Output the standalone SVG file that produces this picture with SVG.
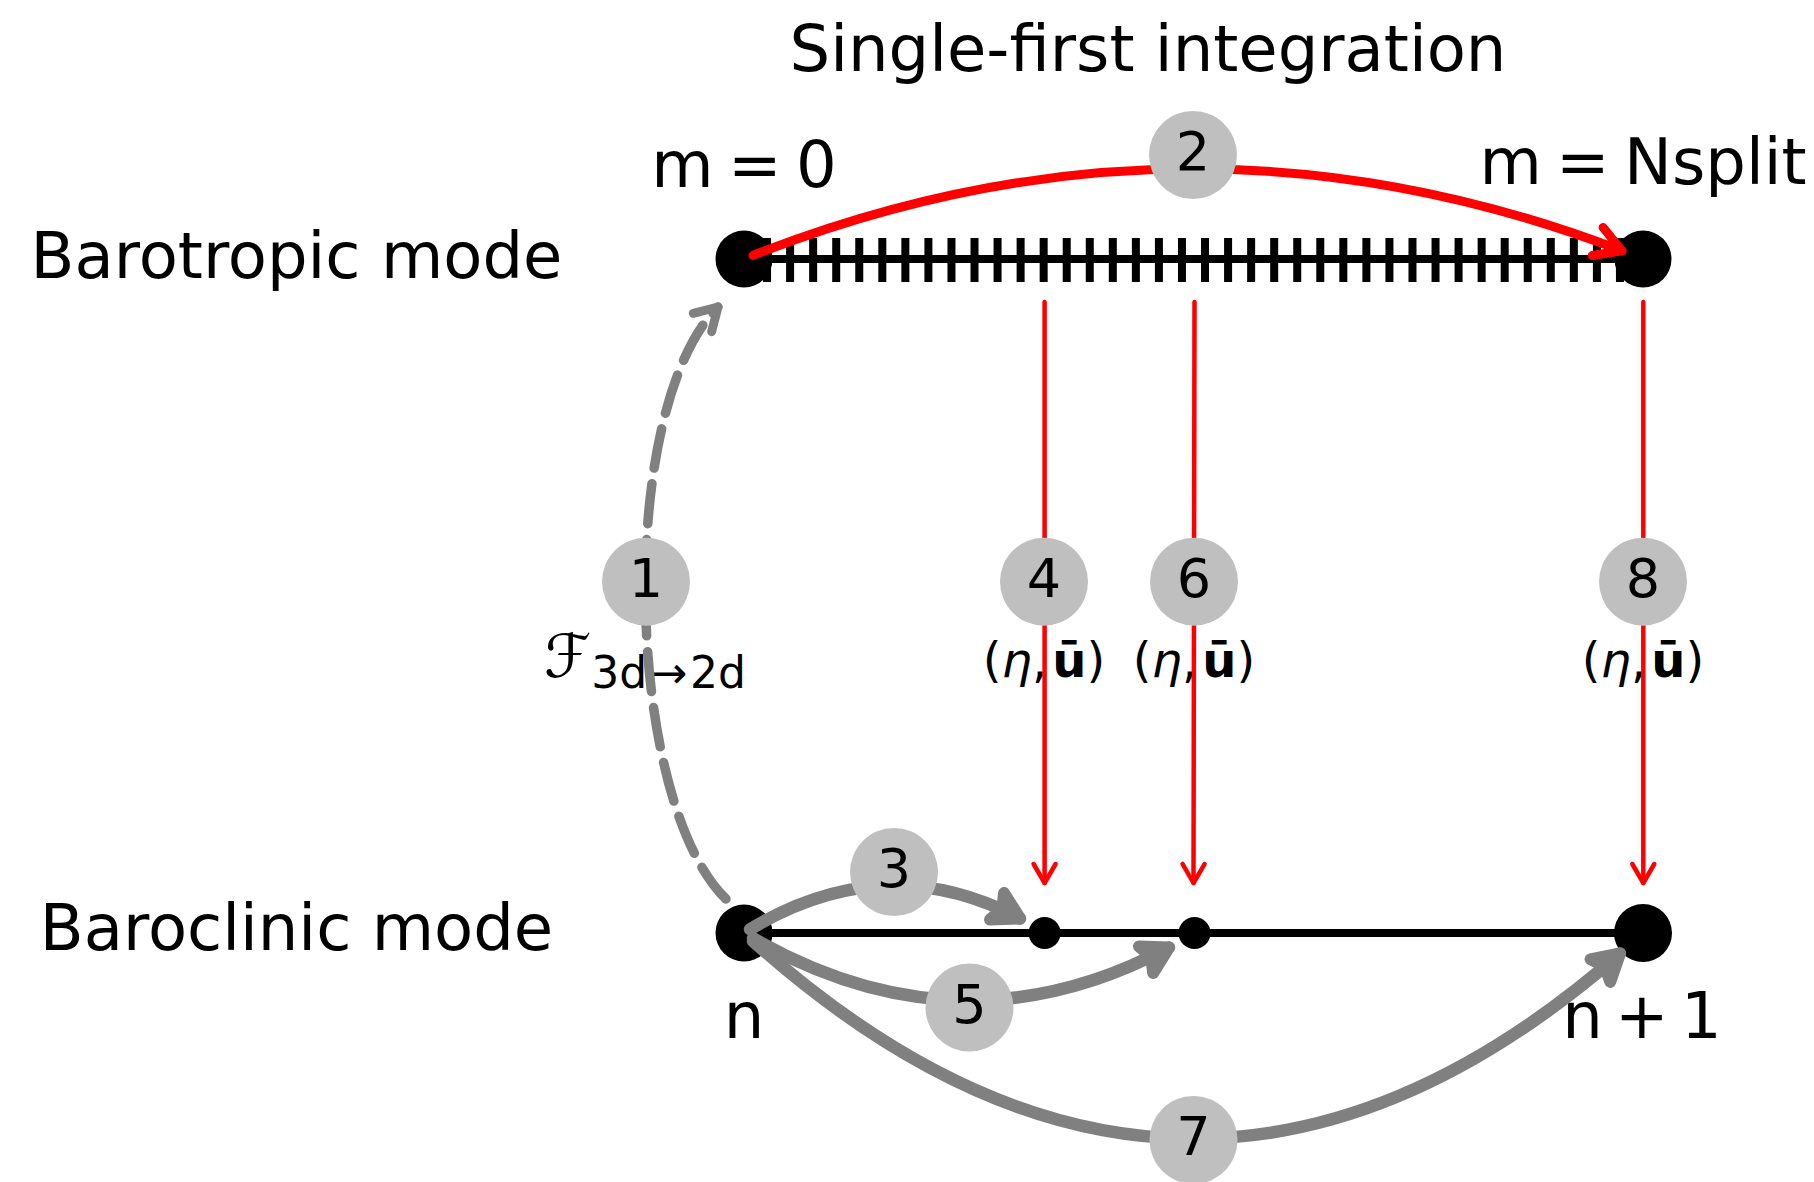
<svg xmlns="http://www.w3.org/2000/svg" width="1814" height="1182" viewBox="0 0 1814 1182">
<style>
text{font-family:"DejaVu Sans","Noto Sans",sans-serif;fill:#000}
.big{font-size:64px}
.num{font-size:54px;text-anchor:middle}
.lab{font-size:48px;text-anchor:middle}
.node{fill:#000}
.lbl{fill:#bfbfbf}
.red{fill:none;stroke:#ff0000;stroke-linecap:round;stroke-linejoin:round}
.gray{fill:none;stroke:#808080;stroke-linecap:round;stroke-linejoin:round}
.axis{fill:none;stroke:#000}
</style>
<defs>
<marker id="hRed" markerUnits="userSpaceOnUse" orient="auto" overflow="visible" markerWidth="1" markerHeight="1">
<path d="M -26 -15 L 0 0 L -26 15" fill="none" stroke="#ff0000" stroke-width="9" stroke-linejoin="round" stroke-linecap="round"/>
</marker>
<marker id="hRedThin" markerUnits="userSpaceOnUse" orient="auto" overflow="visible" markerWidth="1" markerHeight="1">
<path d="M -19 -11 L 0 0 L -19 11" fill="none" stroke="#ff0000" stroke-width="4.5" stroke-linejoin="round" stroke-linecap="round"/>
</marker>
<marker id="hGray" markerUnits="userSpaceOnUse" orient="auto" overflow="visible" markerWidth="1" markerHeight="1">
<path d="M -26 -15 L 0 0 L -26 15 L -20 0 Z" fill="#808080" stroke="#808080" stroke-width="12" stroke-linejoin="round" stroke-linecap="round"/>
</marker>
<marker id="hGrayDash" markerUnits="userSpaceOnUse" orient="auto" overflow="visible" markerWidth="1" markerHeight="1">
<path d="M -22 -13 L 0 0 L -22 13" fill="none" stroke="#808080" stroke-width="9" stroke-linejoin="round" stroke-linecap="round" stroke-dasharray="none"/>
</marker>
</defs>
<rect width="1814" height="1182" fill="#fff"/>

<text class="big" x="1148" y="71" text-anchor="middle">Single-first integration</text>
<text class="big" x="296.5" y="278" text-anchor="middle">Barotropic mode</text>
<text class="big" x="296.5" y="950" text-anchor="middle">Baroclinic mode</text>

<g id="timelines">
<path class="axis" stroke-width="8" d="M 744 259 H 1643 M 744 933 H 1643"/>
<path class="axis" stroke-width="8" d="M 767.05 238 V 282 M 790.10 238 V 282 M 813.15 238 V 282 M 836.21 238 V 282 M 859.26 238 V 282 M 882.31 238 V 282 M 905.36 238 V 282 M 928.41 238 V 282 M 951.46 238 V 282 M 974.51 238 V 282 M 997.56 238 V 282 M 1020.62 238 V 282 M 1043.67 238 V 282 M 1066.72 238 V 282 M 1089.77 238 V 282 M 1112.82 238 V 282 M 1135.87 238 V 282 M 1158.92 238 V 282 M 1181.97 238 V 282 M 1205.03 238 V 282 M 1228.08 238 V 282 M 1251.13 238 V 282 M 1274.18 238 V 282 M 1297.23 238 V 282 M 1320.28 238 V 282 M 1343.33 238 V 282 M 1366.38 238 V 282 M 1389.44 238 V 282 M 1412.49 238 V 282 M 1435.54 238 V 282 M 1458.59 238 V 282 M 1481.64 238 V 282 M 1504.69 238 V 282 M 1527.74 238 V 282 M 1550.79 238 V 282 M 1573.85 238 V 282 M 1596.90 238 V 282 M 1619.95 238 V 282"/>
</g>

<g id="node-m0">
<circle class="node" cx="744" cy="259" r="28.5"/>
<text class="big" x="744" y="187" text-anchor="middle" word-spacing="-6">m = 0</text>
</g>
<g id="node-mN">
<circle class="node" cx="1643" cy="259" r="28.5"/>
<text class="big" x="1643" y="184" text-anchor="middle" word-spacing="-6">m = Nsplit</text>
</g>
<g id="node-n">
<circle class="node" cx="744" cy="933" r="28.5"/>
<text class="big" x="744" y="1038" text-anchor="middle">n</text>
</g>
<g id="node-s4">
<circle class="node" cx="1044.6" cy="933" r="16"/>
</g>
<g id="node-s6">
<circle class="node" cx="1194.5" cy="933" r="16"/>
</g>
<g id="node-n1">
<circle class="node" cx="1643" cy="933" r="29"/>
<text class="big" x="1642" y="1038" text-anchor="middle" word-spacing="-8">n + 1</text>
</g>

<g id="edge-labels-text">
<text class="lab" x="645" y="677"><tspan font-size="60">ℱ</tspan><tspan font-size="44" dy="11">3d</tspan><tspan font-size="44" dx="3">→</tspan><tspan font-size="44" dx="3">2d</tspan></text>
<text class="lab" x="1044" y="677">(<tspan font-style="italic">η</tspan>,<tspan dx="5" font-weight="bold">ū</tspan>)</text>
<text class="lab" x="1194" y="677">(<tspan font-style="italic">η</tspan>,<tspan dx="5" font-weight="bold">ū</tspan>)</text>
<text class="lab" x="1643" y="677">(<tspan font-style="italic">η</tspan>,<tspan dx="5" font-weight="bold">ū</tspan>)</text>
</g>

<g id="connectors">
<path id="e1" class="gray" stroke-width="9.5" stroke-dasharray="40 16" d="M 726 899 C 625 800 615 410 718 307" marker-end="url(#hGrayDash)"/>
<path id="e2" class="red" stroke-width="9" d="M 753 255.4 Q 1188.4 84.6 1622 250.8" marker-end="url(#hRed)"/>
<path id="e3" class="gray" stroke-width="12.5" d="M 750 929.3 Q 886.1 847.6 1020 918.5" marker-end="url(#hGray)"/>
<path id="e4" class="red" stroke-width="4.5" d="M 1044.6 302 L 1044.6 883" marker-end="url(#hRedThin)"/>
<path id="e5" class="gray" stroke-width="12.5" d="M 753 938.3 Q 962.1 1057.7 1169 947.5" marker-end="url(#hGray)"/>
<path id="e6" class="red" stroke-width="4.5" d="M 1194.5 302 L 1193.5 883" marker-end="url(#hRedThin)"/>
<path id="e7" class="gray" stroke-width="12.5" d="M 753 941.1 Q 1187.9 1329.9 1620 953.5" marker-end="url(#hGray)"/>
<path id="e8" class="red" stroke-width="4.5" d="M 1643.3 302 L 1643.3 883" marker-end="url(#hRedThin)"/>
</g>

<g id="step-1"><circle class="lbl" cx="646" cy="581.7" r="44"/><text class="num" x="646" y="596.7">1</text></g>
<g id="step-2"><circle class="lbl" cx="1193" cy="155" r="44"/><text class="num" x="1193" y="170">2</text></g>
<g id="step-3"><circle class="lbl" cx="894" cy="872" r="44"/><text class="num" x="894" y="887">3</text></g>
<g id="step-4"><circle class="lbl" cx="1044" cy="581.7" r="44"/><text class="num" x="1044" y="596.7">4</text></g>
<g id="step-5"><circle class="lbl" cx="969.5" cy="1007.5" r="44"/><text class="num" x="969.5" y="1022.5">5</text></g>
<g id="step-6"><circle class="lbl" cx="1194" cy="581.7" r="44"/><text class="num" x="1194" y="596.7">6</text></g>
<g id="step-7"><circle class="lbl" cx="1193.5" cy="1140" r="44"/><text class="num" x="1193.5" y="1155">7</text></g>
<g id="step-8"><circle class="lbl" cx="1643" cy="581.7" r="44"/><text class="num" x="1643" y="596.7">8</text></g>
</svg>
